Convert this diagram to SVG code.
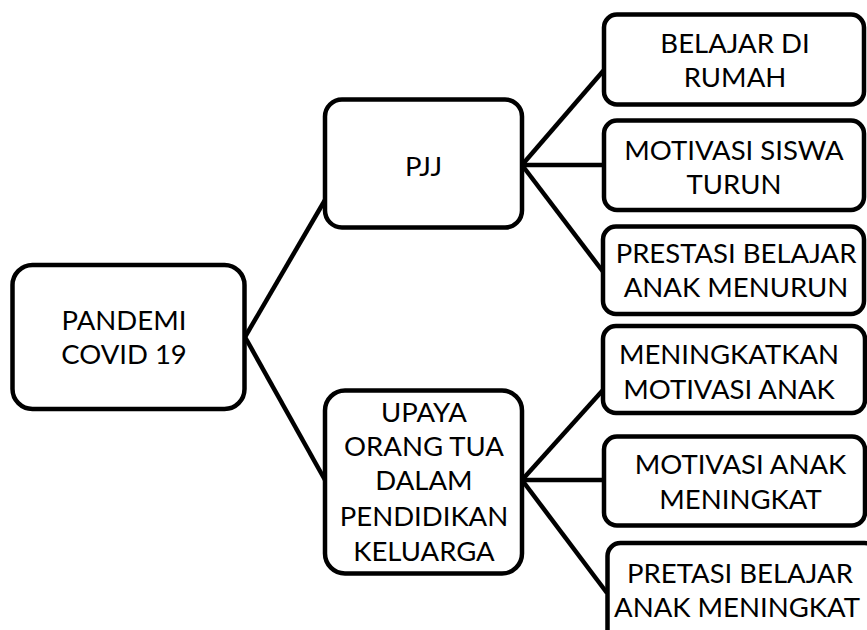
<svg xmlns="http://www.w3.org/2000/svg" width="867" height="630" viewBox="0 0 867 630">
<style>
.box{fill:#fff;stroke:#000;stroke-width:4.5}
.con{fill:none;stroke:#000;stroke-width:4.5;stroke-linecap:butt}
text{font-family:Lato,"Open Sans","Liberation Sans",sans-serif;font-size:27.5px;fill:#000;text-anchor:middle}
</style>
<rect width="867" height="630" fill="#fff"/>
<g id="connectors">
<line class="con" x1="245" y1="337" x2="325" y2="200"/>
<line class="con" x1="245" y1="337" x2="325" y2="480"/>
<line class="con" x1="522" y1="165" x2="604" y2="70"/>
<line class="con" x1="522" y1="165" x2="604" y2="165"/>
<line class="con" x1="522" y1="165" x2="604" y2="273"/>
<line class="con" x1="522" y1="480" x2="603" y2="390"/>
<line class="con" x1="522" y1="480" x2="604" y2="480"/>
<line class="con" x1="522" y1="480" x2="607" y2="593"/>
</g>
<g id="pandemi">
<rect class="box" x="12.5" y="265" width="232" height="144" rx="20"/>
<text x="124" y="330">PANDEMI</text>
<text x="124" y="364">COVID 19</text>
</g>
<g id="pjj">
<rect class="box" x="325" y="99.5" width="197" height="128" rx="17"/>
<text x="423.5" y="176">PJJ</text>
</g>
<g id="upaya">
<rect class="box" x="325" y="390.5" width="197" height="183" rx="20"/>
<text x="424" y="422">UPAYA</text>
<text x="424" y="456">ORANG TUA</text>
<text x="424" y="490">DALAM</text>
<text x="424" y="525.5">PENDIDIKAN</text>
<text x="424" y="561">KELUARGA</text>
</g>
<g id="belajar">
<rect class="box" x="604" y="14.5" width="260" height="90" rx="13"/>
<text x="735" y="53.3">BELAJAR DI</text>
<text x="735" y="87.3">RUMAH</text>
</g>
<g id="motivasi-siswa">
<rect class="box" x="604" y="120.5" width="260" height="89.5" rx="13"/>
<text x="734" y="160">MOTIVASI SISWA</text>
<text x="734" y="193.5">TURUN</text>
</g>
<g id="prestasi-menurun">
<rect class="box" x="603" y="226.5" width="261" height="87.5" rx="13"/>
<text x="736" y="263">PRESTASI BELAJAR</text>
<text x="736" y="297">ANAK MENURUN</text>
</g>
<g id="meningkatkan">
<rect class="box" x="603" y="326" width="262" height="87" rx="13"/>
<text x="729" y="364.3">MENINGKATKAN</text>
<text x="729" y="399">MOTIVASI ANAK</text>
</g>
<g id="motivasi-anak">
<rect class="box" x="604" y="436.5" width="261" height="89" rx="13"/>
<text x="740.5" y="474">MOTIVASI ANAK</text>
<text x="740.5" y="509.3">MENINGKAT</text>
</g>
<g id="pretasi-meningkat">
<rect class="box" x="607.5" y="543" width="270" height="100" rx="13"/>
<text x="740" y="582.5">PRETASI BELAJAR</text>
<text x="737" y="616.7">ANAK MENINGKAT</text>
</g>
</svg>
